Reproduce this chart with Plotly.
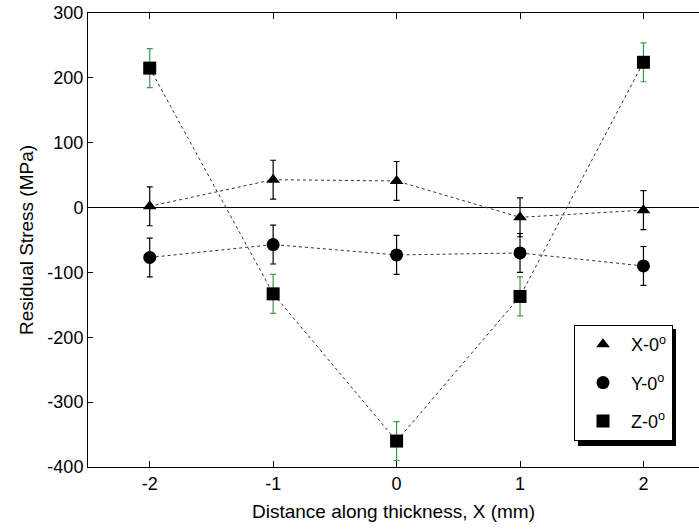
import plotly.graph_objects as go

x_pos = [-2, -1, 0, 1, 2]
x_stress = [2, 43, 41, -15, -4]
y_stress = [-77, -57, -73, -70, -90]
z_stress = [215, -133, -360, -137, 224]
err_x = [30, 30, 30, 30, 30]
err_y = [30, 30, 30, 30, 30]
err_z = [30, 30, 30, 30, 30]

x_ticks = [-2, -1, 0, 1, 2]
x_ticktext = ["-2", "-1", "0", "1", "2"]
y_ticks = [-400, -300, -200, -100, 0, 100, 200, 300]
y_ticktext = ["-400", "-300", "-200", "-100", "0", "100", "200", "300"]

names = ["X-0<sup>o</sup>", "Y-0<sup>o</sup>", "Z-0<sup>o</sup>"]
symbols = ["triangle-up", "circle", "square"]
sizes = [12, 13, 13]
err_colors = ["black", "black", "#3a9a4e"]

W, H = 699, 531
ML, MR, MT, MB = 88, 0, 13, 64
FONT = "Liberation Sans, Arial, sans-serif"

fig = go.Figure()
for i, (vals, errs) in enumerate([(x_stress, err_x), (y_stress, err_y), (z_stress, err_z)]):
    fig.add_trace(go.Scatter(
        x=x_pos, y=vals, name=names[i], showlegend=False,
        mode="lines+markers",
        line=dict(color="#333333", width=1, dash="dot"),
        marker=dict(symbol=symbols[i], size=sizes[i], color="black"),
        error_y=dict(type="data", array=errs, visible=True, color=err_colors[i],
                     thickness=1.2, width=3),
    ))
# legend entries (marker only)
for i in range(3):
    fig.add_trace(go.Scatter(
        x=[None], y=[None], name=names[i], legendgroup=f"g{i}",
        mode="markers",
        marker=dict(symbol=symbols[i], size=sizes[i], color="black"),
    ))

pw, ph = W - ML - MR, H - MT - MB
def px(xp):
    return (xp - ML) / pw
def py(yp):
    return (H - MB - yp) / ph

# legend drop shadow
fig.add_shape(type="rect", xref="paper", yref="paper",
              x0=px(578), x1=px(676), y0=py(329), y1=py(446),
              fillcolor="black", line=dict(width=0), layer="above")

fig.update_layout(
    width=W, height=H,
    margin=dict(l=ML, r=MR, t=MT, b=MB),
    paper_bgcolor="white", plot_bgcolor="white",
    font=dict(family=FONT, size=18, color="black"),
    showlegend=True,
    legend=dict(x=px(574), y=py(325), xanchor="left", yanchor="top",
                bgcolor="white", bordercolor="black", borderwidth=1,
                font=dict(size=18), tracegroupgap=12, traceorder="grouped",
                itemwidth=46),
    xaxis=dict(range=[-2.5, 2.45], tickvals=x_ticks, ticktext=x_ticktext,
               ticks="inside", ticklen=6, tickcolor="black",
               showline=True, linecolor="black", linewidth=1, mirror="ticks",
               showgrid=False, zeroline=False,
               title=dict(text="Distance along thickness, X (mm)", standoff=12,
                          font=dict(size=19))),
    yaxis=dict(range=[-400, 300], tickvals=y_ticks, ticktext=y_ticktext,
               ticks="inside", ticklen=5, tickcolor="black",
               showline=True, linecolor="black", linewidth=1,
               showgrid=False, zeroline=True, zerolinecolor="black", zerolinewidth=1,
               title=dict(text="Residual Stress (MPa)", standoff=8,
                          font=dict(size=19))),
)

fig.write_html("out.html")
